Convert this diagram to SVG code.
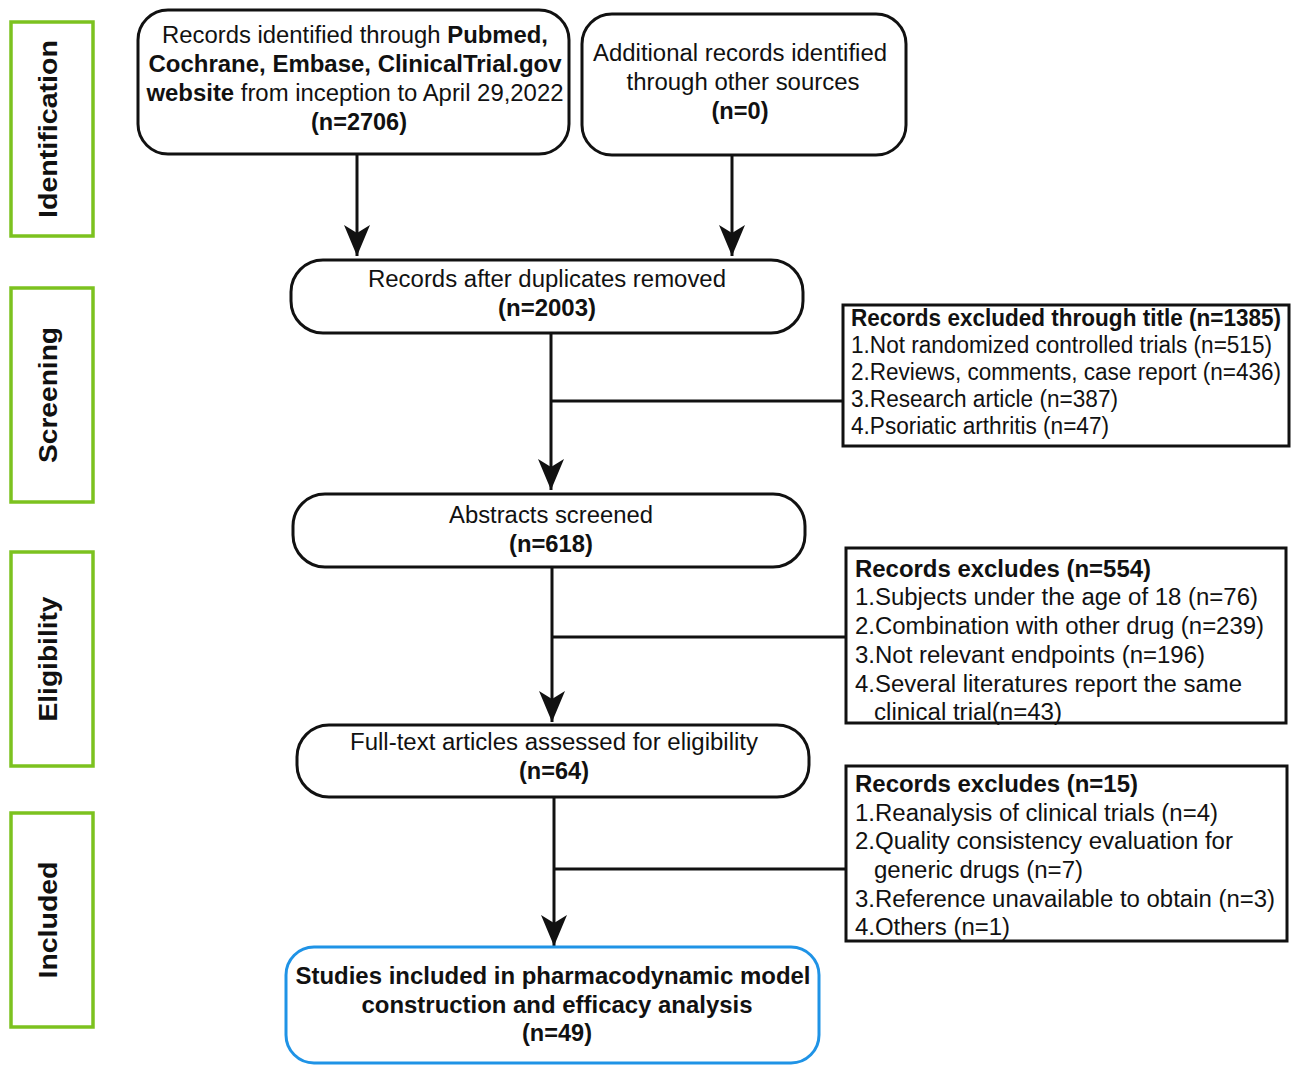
<svg xmlns="http://www.w3.org/2000/svg" width="1299" height="1075" viewBox="0 0 1299 1075">
<defs>
<style>
.stage{fill:#fff;stroke:#7cc21f;stroke-width:3.5}
.stage-t{font-family:"Liberation Sans",Arial,sans-serif;font-weight:bold;font-size:26px;fill:#111;text-anchor:middle}
.node{fill:#fff;stroke:#111;stroke-width:3}
.final{fill:#fff;stroke:#1f93e6;stroke-width:3}
.excl{fill:#fff;stroke:#111;stroke-width:3}
.t{font-family:"Liberation Sans",Arial,sans-serif;font-size:23px;fill:#111}
.c{text-anchor:middle}
.b{font-weight:bold}
.conn{stroke:#111;stroke-width:3;fill:none}
</style>
<marker id="arr" markerUnits="userSpaceOnUse" markerWidth="32" markerHeight="30" viewBox="0 -14 32 28" refX="31" refY="0" orient="auto">
<path d="M0,-13 L31,0 L0,13 L8,0 Z" fill="#111"/>
</marker>
</defs>

<g id="stage-identification">
<rect class="stage" x="11" y="22" width="82" height="214"/>
<text class="stage-t" transform="translate(57,129) rotate(-90)" textLength="178" lengthAdjust="spacingAndGlyphs">Identification</text>
</g>
<g id="stage-screening">
<rect class="stage" x="11" y="288" width="82" height="214"/>
<text class="stage-t" transform="translate(57,395) rotate(-90)" textLength="136" lengthAdjust="spacingAndGlyphs">Screening</text>
</g>
<g id="stage-eligibility">
<rect class="stage" x="11" y="552" width="82" height="214"/>
<text class="stage-t" transform="translate(57,659) rotate(-90)" textLength="125" lengthAdjust="spacingAndGlyphs">Eligibility</text>
</g>
<g id="stage-included">
<rect class="stage" x="11" y="813" width="82" height="214"/>
<text class="stage-t" transform="translate(57,920) rotate(-90)" textLength="117" lengthAdjust="spacingAndGlyphs">Included</text>
</g>

<g id="connectors">
<line class="conn" x1="357" y1="154" x2="357" y2="256" marker-end="url(#arr)"/>
<line class="conn" x1="732" y1="155" x2="732" y2="256" marker-end="url(#arr)"/>
<line class="conn" x1="551" y1="333" x2="551" y2="490" marker-end="url(#arr)"/>
<line class="conn" x1="551" y1="401" x2="843" y2="401"/>
<line class="conn" x1="552" y1="567" x2="552" y2="722" marker-end="url(#arr)"/>
<line class="conn" x1="552" y1="637" x2="846" y2="637"/>
<line class="conn" x1="554" y1="797" x2="554" y2="946" marker-end="url(#arr)"/>
<line class="conn" x1="554" y1="869" x2="846" y2="869"/>
</g>

<g id="node-records-db">
<rect class="node" x="138" y="10" width="431" height="144" rx="30"/>
<text class="t c" x="355" y="43" textLength="386" lengthAdjust="spacingAndGlyphs">Records identified through <tspan class="b">Pubmed,</tspan></text>
<text class="t c b" x="355" y="72" textLength="413" lengthAdjust="spacingAndGlyphs">Cochrane, Embase, ClinicalTrial.gov</text>
<text class="t c" x="355" y="101" textLength="417" lengthAdjust="spacingAndGlyphs"><tspan class="b">website</tspan> from inception to April 29,2022</text>
<text class="t c b" x="359" y="130" textLength="96" lengthAdjust="spacingAndGlyphs">(n=2706)</text>
</g>

<g id="node-records-other">
<rect class="node" x="582" y="14" width="324" height="141" rx="30"/>
<text class="t c" x="740" y="61" textLength="294" lengthAdjust="spacingAndGlyphs">Additional records identified</text>
<text class="t c" x="743" y="90" textLength="233" lengthAdjust="spacingAndGlyphs">through other sources</text>
<text class="t c b" x="740" y="119" textLength="57" lengthAdjust="spacingAndGlyphs">(n=0)</text>
</g>

<g id="node-duplicates">
<rect class="node" x="291" y="260" width="512" height="73" rx="32"/>
<text class="t c" x="547" y="287" textLength="358" lengthAdjust="spacingAndGlyphs">Records after duplicates removed</text>
<text class="t c b" x="547" y="316" textLength="98" lengthAdjust="spacingAndGlyphs">(n=2003)</text>
</g>

<g id="node-excl-title">
<rect class="excl" x="843" y="305" width="446" height="141"/>
<text class="t b" x="851" y="326" textLength="430" lengthAdjust="spacingAndGlyphs">Records excluded through title (n=1385)</text>
<text class="t" x="851" y="353" textLength="421" lengthAdjust="spacingAndGlyphs">1.Not randomized controlled trials (n=515)</text>
<text class="t" x="851" y="380" textLength="430" lengthAdjust="spacingAndGlyphs">2.Reviews, comments, case report (n=436)</text>
<text class="t" x="851" y="407" textLength="267" lengthAdjust="spacingAndGlyphs">3.Research article (n=387)</text>
<text class="t" x="851" y="434" textLength="258" lengthAdjust="spacingAndGlyphs">4.Psoriatic arthritis (n=47)</text>
</g>

<g id="node-abstracts">
<rect class="node" x="293" y="494" width="512" height="73" rx="32"/>
<text class="t c" x="551" y="523" textLength="204" lengthAdjust="spacingAndGlyphs">Abstracts screened</text>
<text class="t c b" x="551" y="552" textLength="84" lengthAdjust="spacingAndGlyphs">(n=618)</text>
</g>

<g id="node-excl-abstracts">
<rect class="excl" x="846" y="548" width="440" height="175"/>
<text class="t b" x="855" y="577" textLength="296" lengthAdjust="spacingAndGlyphs">Records excludes (n=554)</text>
<text class="t" x="855" y="605" textLength="403" lengthAdjust="spacingAndGlyphs">1.Subjects under the age of 18 (n=76)</text>
<text class="t" x="855" y="634" textLength="409" lengthAdjust="spacingAndGlyphs">2.Combination with other drug (n=239)</text>
<text class="t" x="855" y="663" textLength="350" lengthAdjust="spacingAndGlyphs">3.Not relevant endpoints (n=196)</text>
<text class="t" x="855" y="692" textLength="387" lengthAdjust="spacingAndGlyphs">4.Several literatures report the same</text>
<text class="t" x="874" y="720" textLength="188" lengthAdjust="spacingAndGlyphs">clinical trial(n=43)</text>
</g>

<g id="node-fulltext">
<rect class="node" x="297" y="725" width="512" height="72" rx="32"/>
<text class="t c" x="554" y="750" textLength="408" lengthAdjust="spacingAndGlyphs">Full-text articles assessed for eligibility</text>
<text class="t c b" x="554" y="779" textLength="70" lengthAdjust="spacingAndGlyphs">(n=64)</text>
</g>

<g id="node-excl-fulltext">
<rect class="excl" x="846" y="766" width="441" height="175"/>
<text class="t b" x="855" y="792" textLength="283" lengthAdjust="spacingAndGlyphs">Records excludes (n=15)</text>
<text class="t" x="855" y="821" textLength="363" lengthAdjust="spacingAndGlyphs">1.Reanalysis of clinical trials (n=4)</text>
<text class="t" x="855" y="849" textLength="378" lengthAdjust="spacingAndGlyphs">2.Quality consistency evaluation for</text>
<text class="t" x="874" y="878" textLength="209" lengthAdjust="spacingAndGlyphs">generic drugs (n=7)</text>
<text class="t" x="855" y="907" textLength="420" lengthAdjust="spacingAndGlyphs">3.Reference unavailable to obtain (n=3)</text>
<text class="t" x="855" y="935" textLength="155" lengthAdjust="spacingAndGlyphs">4.Others (n=1)</text>
</g>

<g id="node-included">
<rect class="final" x="286" y="947" width="533" height="116" rx="28"/>
<text class="t c b" x="553" y="984" textLength="515" lengthAdjust="spacingAndGlyphs">Studies included in pharmacodynamic model</text>
<text class="t c b" x="557" y="1013" textLength="391" lengthAdjust="spacingAndGlyphs">construction and efficacy analysis</text>
<text class="t c b" x="557" y="1041" textLength="70" lengthAdjust="spacingAndGlyphs">(n=49)</text>
</g>
</svg>
